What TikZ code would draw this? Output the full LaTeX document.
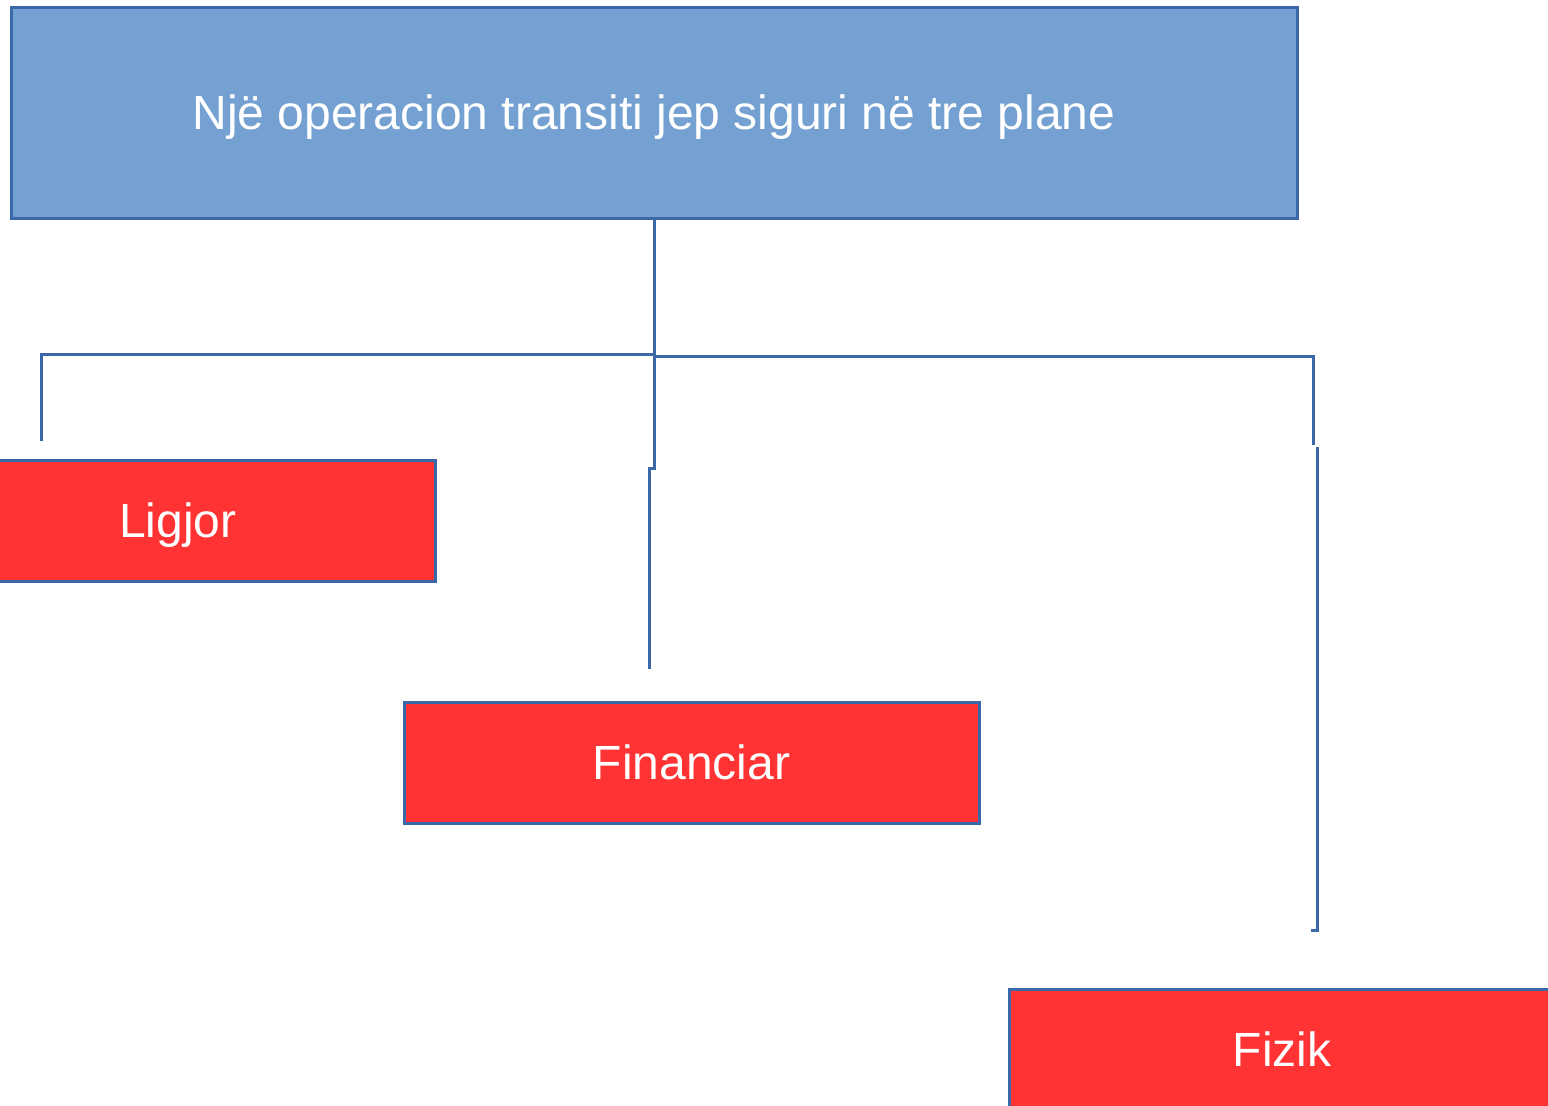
\documentclass[tikz,border=0pt]{standalone}
\usepackage{fontspec}
\setmainfont{Liberation Sans}
\definecolor{topfill}{RGB}{116,161,209}
\definecolor{edgeblue}{RGB}{58,104,168}
\definecolor{redfill}{RGB}{255,51,51}
\begin{document}
\begin{tikzpicture}[x=1pt,y=-1pt,
  box/.style={draw=edgeblue,line width=3pt,inner sep=0pt,text=white,
    font=\fontsize{48}{48}\selectfont,text height=34pt,text depth=0pt},
  conn/.style={draw=edgeblue,line width=3pt}]
\useasboundingbox (0,0) rectangle (1548,1106);
\clip (0,0) rectangle (1548,1106);
\node[box,fill=topfill,minimum width=1286pt,minimum height=211pt] (top) at (654,112.5) {Një operacion transiti jep siguri në tre plane};
\node[box,fill=redfill,minimum width=514pt,minimum height=121pt] (lig) at (178,520.5) {Ligjor};
\node[box,fill=redfill,minimum width=575pt,minimum height=121pt] (fin) at (691.5,762.5) {Financiar};
\node[box,fill=redfill,minimum width=546pt,minimum height=121pt] (fiz) at (1282,1049.5) {Fizik};
\coordinate (j) at (654,355);
\coordinate (jlstart) at (654,354);
\coordinate (jl) at (41,354);
\coordinate (ligend) at (41,441);
\coordinate (fstep1) at (654,468);
\coordinate (fstep2) at (649,468);
\coordinate (finend) at (649,669);
\coordinate (jrstart) at (654,356);
\coordinate (jr) at (1313,356);
\coordinate (fizend1) at (1313,445);
\coordinate (fizstart) at (1317,447);
\coordinate (fizcorner) at (1317,930);
\coordinate (fizend) at (1311,930);
\draw[conn] (top.south) -- (j);
\draw[conn] (jlstart) -- (jl) -- (ligend);
\draw[conn] (j) -- (fstep1) -- (fstep2) -- (finend);
\draw[conn] (jrstart) -- (jr) -- (fizend1);
\draw[conn] (fizstart) -- (fizcorner) -- (fizend);
\end{tikzpicture}
\end{document}
